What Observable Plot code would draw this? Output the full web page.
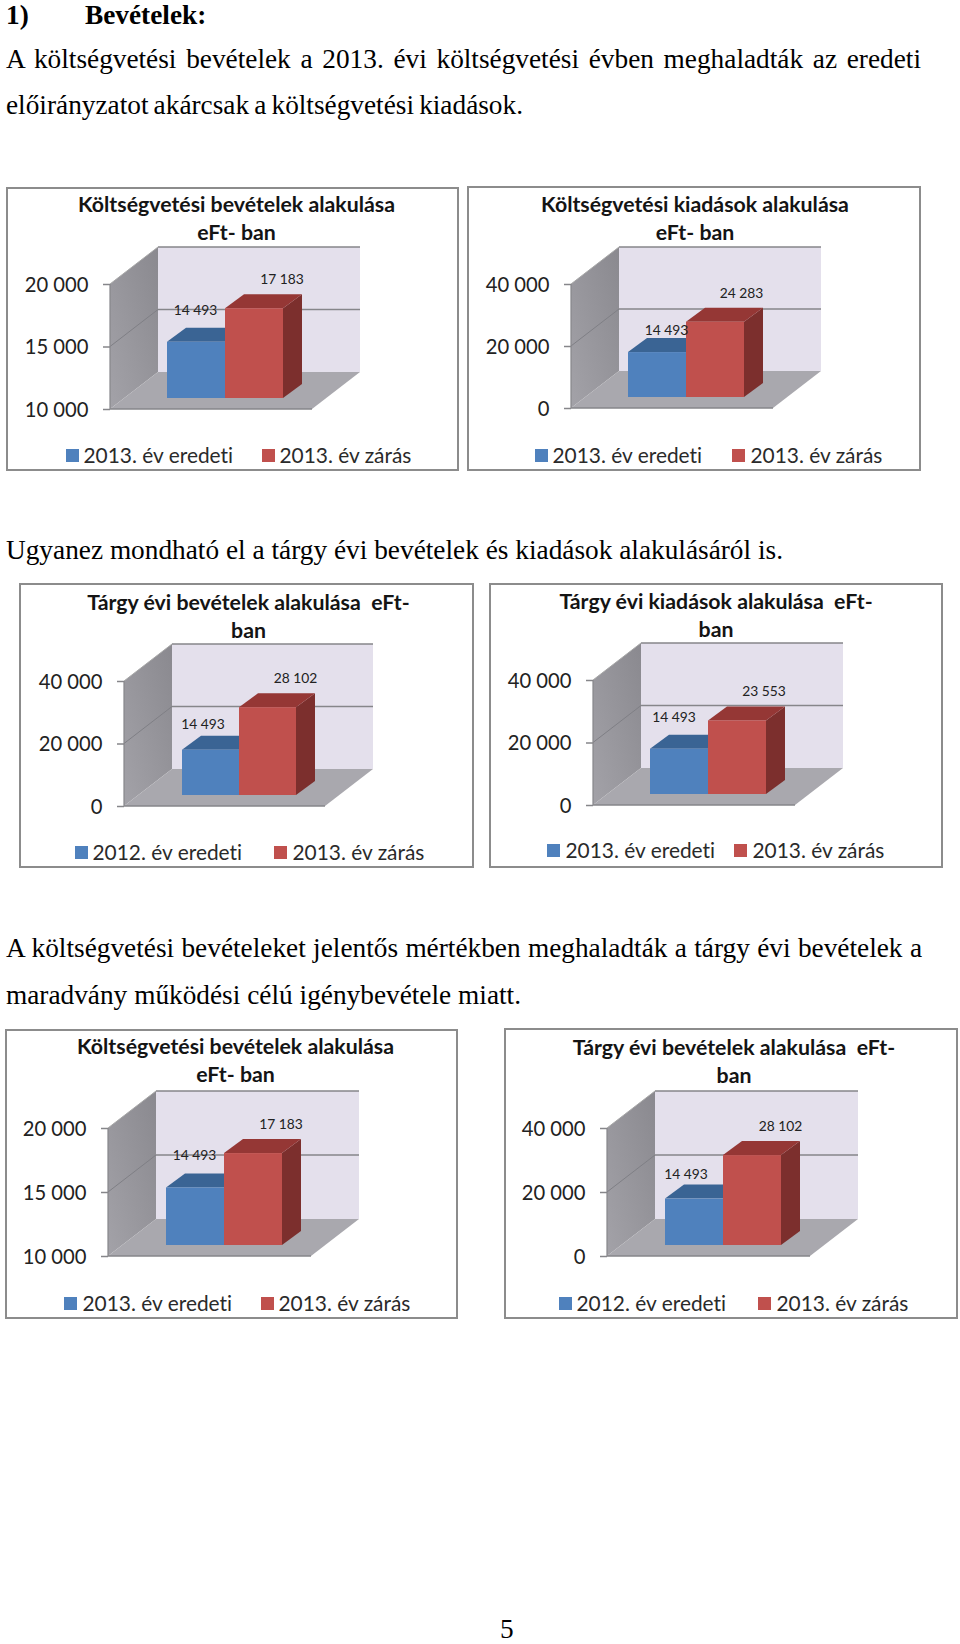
<!DOCTYPE html>
<html lang="hu">
<head>
<meta charset="utf-8">
<script src="https://cdn.jsdelivr.net/npm/d3@7"></script>
<script src="https://cdn.jsdelivr.net/npm/@observablehq/plot@0.6"></script>
<style>
  html, body { margin: 0; padding: 0; background: #fff; }
  #page { position: relative; width: 960px; height: 1644px; overflow: hidden; }
  .line { position: absolute; font-family: "Liberation Serif", serif; font-size: 27.3px; color: #000; white-space: nowrap; line-height: 1; }
  .box { position: absolute; border: 2.5px solid #8c8c8c; box-sizing: border-box; background: #fff; }
  .box svg { position: absolute; left: 0; top: 0; overflow: visible; max-width: none !important; }
  .title { position: absolute; left: 0; right: 0; text-align: center; font-family: Lato, sans-serif; font-weight: 700; font-size: 21.3px; line-height: 28px; color: #141414; white-space: pre; font-variant-ligatures: none; }
  .swatch { position: absolute; width: 13px; height: 13px; }
  .legtext { position: absolute; font-family: Lato, sans-serif; font-size: 20.9px; line-height: 24px; color: #2a2a2a; white-space: nowrap; font-variant-ligatures: none; }
</style>
</head>
<body>
<div id="page"></div>
<script>
// ---- Data ----
const budgetRevenue = [14493, 17183];
const budgetExpense = [14493, 24283];
const yearRevenue   = [14493, 28102];
const yearExpense   = [14493, 23553];

const titles = [
  "Költségvetési bevételek alakulása\neFt- ban",
  "Költségvetési kiadások alakulása\neFt- ban",
  "Tárgy évi bevételek alakulása  eFt-\nban",
  "Tárgy évi kiadások alakulása  eFt-\nban",
  "Költségvetési bevételek alakulása\neFt- ban",
  "Tárgy évi bevételek alakulása  eFt-\nban"
];
const seriesValues = [budgetRevenue, budgetExpense, yearRevenue, yearExpense, budgetRevenue, yearRevenue];
const firstSeriesNames = ["2013. év eredeti", "2013. év eredeti", "2012. év eredeti", "2013. év eredeti", "2013. év eredeti", "2012. év eredeti"];
const secondSeriesName = "2013. év zárás";
const narrowTicks = [10000, 15000, 20000];
const wideTicks = [0, 20000, 40000];
const tickSets = [narrowTicks, wideTicks, wideTicks, wideTicks, narrowTicks, wideTicks];

// text, left, top, bold, justified width
const textLines = [
  ["1)", 6, 1.5, true, 0], ["Bevételek:", 85, 1.5, true, 0],
  ["A költségvetési bevételek a 2013. évi költségvetési évben meghaladták az eredeti", 6, 46, false, 915],
  ["előirányzatot akárcsak a költségvetési kiadások.", 6, 92, false, 517],
  ["Ugyanez mondható el a tárgy évi bevételek és kiadások alakulásáról is.", 6, 537, false, 777],
  ["A költségvetési bevételeket jelentős mértékben meghaladták a tárgy évi bevételek a", 6, 935, false, 916],
  ["maradvány működési célú igénybevétele miatt.", 6, 982, false, 515],
  ["5", 500, 1621, false, 0]
];

// ---- Layout (page pixels) ----
const boxes = [
  {L:6,  R:459, T:187,  B:471,  x0:110, x1:312, yTop:284,  yBot:409,  titleDx:4,  titleY:3.5, leg:[66,84,262,280,456],   lab:[[-1,-32],[27.5,-29]]},
  {L:467,R:921, T:186,  B:471,  x0:571, x1:773, yTop:284,  yBot:408,  titleDx:1,  titleY:4.5, leg:[535,553,732,751,456], lab:[[9,-22],[26,-29]]},
  {L:19, R:474, T:583,  B:868,  x0:124, x1:325, yTop:681,  yBot:806,  titleDx:2,  titleY:5.5, leg:[75,93,274,293,853],   lab:[[-8,-26],[27.5,-29]]},
  {L:489,R:943, T:583,  B:868,  x0:593, x1:795, yTop:680,  yBot:805,  titleDx:0,  titleY:4.5, leg:[547,566,734,753,851], lab:[[-5.5,-32],[26.5,-29]]},
  {L:5,  R:458, T:1029, B:1319, x0:108, x1:311, yTop:1128, yBot:1256, titleDx:4,  titleY:3.5, leg:[64,83,261,279,1304],  lab:[[-1,-32],[27.5,-29]]},
  {L:504,R:958, T:1028, B:1319, x0:607, x1:810, yTop:1128, yBot:1256, titleDx:3,  titleY:5.5, leg:[559,577,758,777,1304],lab:[[-8.5,-25],[28,-29]]}
];
const wallDx = 48, wallDy = -37;     // depth of the box
const barDx = 14, barDy = -11;       // bar offset from the front plane
const sideDx = 19, sideDy = -14;     // bar depth
const blue = {front:"#4f81bd", top:"#3a6494", side:"#2f5480"};
const red  = {front:"#c0504d", top:"#953735", side:"#7c2f2d"};
const space = d3.formatLocale({decimal:".", thousands:" ", grouping:[3], currency:["",""]}).format(",");

const page = document.getElementById("page");
for (const [t, x, y, bold, target] of textLines) {
  const d = document.createElement("div");
  d.className = "line";
  d.textContent = t;
  d.style.left = x + "px";
  d.style.top = y + "px";
  if (bold) d.style.fontWeight = "700";
  if (t === "5") d.style.lineHeight = "16px";
  page.append(d);
  if (target) {
    const gaps = t.split(" ").length - 1;
    d.style.wordSpacing = ((target - d.getBoundingClientRect().width) / gaps) + "px";
  }
}

// Walls, floor and gridlines of the 3-D box, drawn from the y scale.
function boxFrame(ticks, i) {
  return (index, {y}, values, {width, marginLeft, marginRight}) => {
    const a = marginLeft, b = width - marginRight;
    const top = y(ticks[ticks.length - 1]), bot = y(ticks[0]);
    const g = d3.create("svg:g");
    const defs = g.append("defs");
    const grad = defs.append("linearGradient").attr("id", "wall" + i).attr("x1", 1).attr("y1", 0).attr("x2", 0).attr("y2", 1);
    grad.append("stop").attr("offset", 0).attr("stop-color", "#8a898f");
    grad.append("stop").attr("offset", 1).attr("stop-color", "#a3a2a8");
    const poly = (pts, fill) => g.append("polygon").attr("points", pts.map(p => p.join(",")).join(" ")).attr("fill", fill);
    poly([[a, bot], [a, top], [a + wallDx, top + wallDy], [a + wallDx, bot + wallDy]], `url(#wall${i})`);
    poly([[a + wallDx, bot + wallDy], [a + wallDx, top + wallDy], [b + wallDx, top + wallDy], [b + wallDx, bot + wallDy]], "#e4e0ec");
    poly([[a, bot], [b, bot], [b + wallDx, bot + wallDy], [a + wallDx, bot + wallDy]], "#a9a8ae");
    const line = (x1, y1, x2, y2, c, w) => g.append("line").attr("x1", x1).attr("y1", y1).attr("x2", x2).attr("y2", y2).attr("stroke", c).attr("stroke-width", w);
    for (const t of ticks.slice(1)) {
      line(a, y(t), a + wallDx, y(t) + wallDy, t === ticks[ticks.length - 1] ? "#a8a8a8" : "#7f7f85", 1);
      line(a + wallDx, y(t) + wallDy, b + wallDx, y(t) + wallDy, "#86868a", 1.5);
    }
    line(a, bot, b, bot, "#86868a", 1.5);
    line(a, top, a, bot, "#86868a", 1.2);
    return g.node();
  };
}

// Top and side faces of the bars, drawn from the x and y scales.
function barFaces(rows, y0) {
  return (index, {x, y}) => {
    const g = d3.create("svg:g");
    for (const r of rows) {
      const l = x(r.name) + barDx, rr = l + x.bandwidth();
      const t = y(r.value) + barDy, b = y(y0) + barDy;
      const c = r.colors;
      g.append("polygon").attr("fill", c.side).attr("points",
        [[rr, t], [rr + sideDx, t + sideDy], [rr + sideDx, b + sideDy], [rr, b]].map(p => p.join(",")).join(" "));
      g.append("polygon").attr("fill", c.top).attr("points",
        [[l, t], [l + sideDx, t + sideDy], [rr + sideDx, t + sideDy], [rr, t]].map(p => p.join(",")).join(" "));
    }
    return g.node();
  };
}

boxes.forEach((c, i) => {
  const box = document.createElement("div");
  box.className = "box";
  const W = c.R - c.L, H = c.B - c.T;
  Object.assign(box.style, {left: c.L + "px", top: c.T + "px", width: W + "px", height: H + "px"});
  page.append(box);

  const ticks = tickSets[i];
  const names = [firstSeriesNames[i], secondSeriesName];
  const rows = names.map((name, j) => ({name, value: seriesValues[i][j], colors: j ? red : blue}));

  const svg = Plot.plot({
    width: W, height: H,
    marginLeft: c.x0 - c.L, marginRight: c.R - c.x1,
    marginTop: c.yTop - c.T, marginBottom: c.B - c.yBot,
    style: {background: "transparent", overflow: "visible", maxWidth: "none"},
    x: {type: "band", domain: names, paddingInner: 0, paddingOuter: 0.74, axis: null},
    y: {domain: [ticks[0], ticks[ticks.length - 1]], label: null},
    marks: [
      boxFrame(ticks, i),
      barFaces(rows, ticks[0]),
      Plot.barY(rows, {x: "name", y1: () => ticks[0], y2: "value", fill: d => d.colors.front, dx: barDx, dy: barDy}),
      ...rows.map((r, j) => Plot.text([r], {
        x: "name", y: "value", text: d => space(d.value),
        dx: barDx + c.lab[j][0], dy: barDy + c.lab[j][1],
        fontFamily: "Lato, sans-serif", fontSize: 13.8, fill: "#222"
      })),
      Plot.axisY({ticks, tickSize: 7, tickFormat: () => "", stroke: "#86868a", strokeWidth: 1.5, label: null}),
      Plot.axisY({
        ticks, tickFormat: space, tickSize: 0, tickPadding: 22, dy: 1,
        fontFamily: "Lato, sans-serif", fontSize: 20.2, color: "#222", label: null
      })
    ]
  });
  svg.style.left = "-2.5px";
  svg.style.top = "-2.5px";
  box.append(svg);

  const t = document.createElement("div");
  t.className = "title";
  t.textContent = titles[i];
  t.style.top = (c.titleY - 2.5) + "px";
  t.style.transform = `translateX(${c.titleDx}px)`;
  box.append(t);

  const [sw1, t1, sw2, t2, ly] = c.leg;
  [[sw1, t1, blue.front, names[0]], [sw2, t2, red.front, names[1]]].forEach(([sx, tx, col, name]) => {
    const s = document.createElement("div");
    s.className = "swatch";
    Object.assign(s.style, {left: (sx - c.L - 2.5) + "px", top: (ly - c.T - 9) + "px", background: col});
    box.append(s);
    const l = document.createElement("div");
    l.className = "legtext";
    l.textContent = name;
    Object.assign(l.style, {left: (tx - c.L - 2.5) + "px", top: (ly - c.T - 15) + "px"});
    box.append(l);
  });
});
</script>
</body>
</html>
